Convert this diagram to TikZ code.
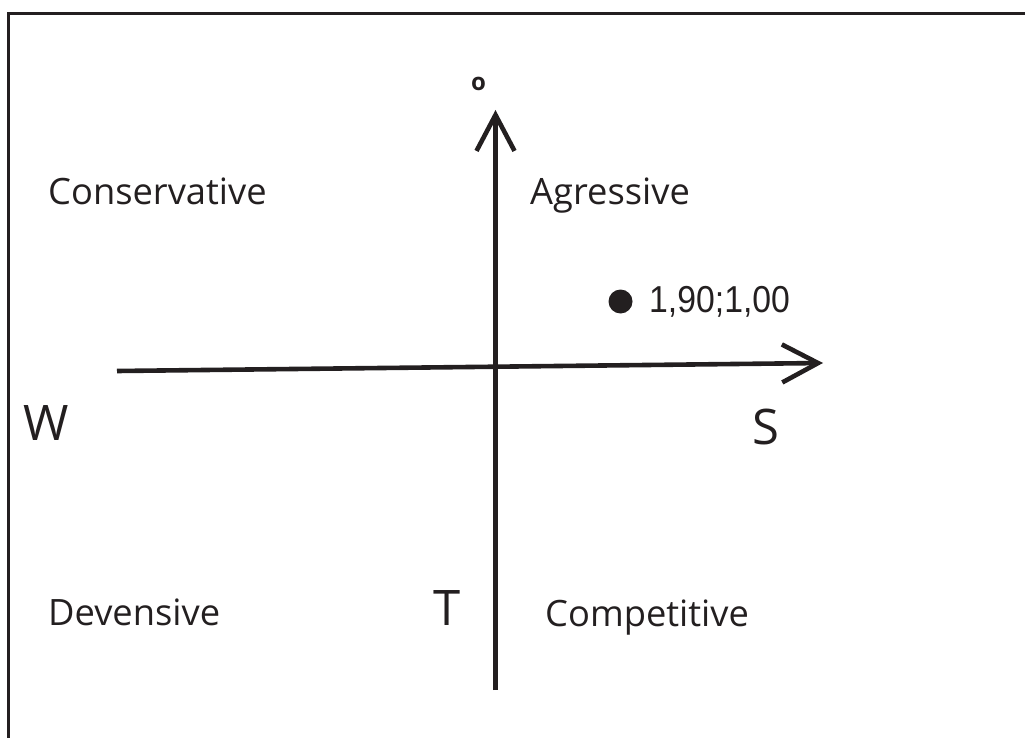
\documentclass[tikz,border=0pt]{standalone}
\usepackage{fontspec}
\setmainfont{Open Sans}
\newfontfamily\numfont[FakeStretch=0.9]{Liberation Sans}
\usetikzlibrary{arrows.meta}
\definecolor{ink}{HTML}{231F20}
\tikzset{
  lbl/.style={anchor=base west, inner sep=0pt, text=ink, font=\fontsize{36.3}{42}\selectfont},
  big/.style={anchor=base west, inner sep=0pt, text=ink, font=\fontsize{49}{54}\selectfont},
  axis/.style={draw=ink, line width=4.6pt, -{Straight Barb[length=36pt,width=38pt]}},
  frame/.style={draw=ink, line width=3pt}
}
\begin{document}
\begin{tikzpicture}[x=1pt,y=-1pt]
\useasboundingbox (0,0) rectangle (1025,738);
\draw[frame] (8,745) -- (8,14) -- (1030,14);
% axes
\coordinate (vb) at (495.5,690);
\coordinate (vt) at (495.5,110);
\coordinate (hl) at (117,371);
\coordinate (hr) at (823,363);
\draw[axis] (vb) -- (vt);
\draw[axis] (hl) -- (hr);
% labels
\node[anchor=center, inner sep=0pt, text=ink, font=\fontsize{24}{28}\selectfont\bfseries] (o) at (478.5,83.5) {o};
\node[lbl] (cons) at (48,205) {Conservative};
\node[lbl] (agr) at (530,205) {Agressive};
\node[lbl] (dev) at (48,625) {Devensive};
\node[lbl] (comp) at (545,626) {Competitive};
\node[big] (w) at (23,440) {W};
\node[big] (s) at (752,444) {S};
\node[big] (t) at (433,625) {T};
\fill[ink] (620.5,301.5) circle (12);
\node[anchor=base west, inner sep=0pt, text=ink, font=\numfont\fontsize{37.5}{42}\selectfont] (val) at (649,312) {1,90;1,00};
\end{tikzpicture}
\end{document}
